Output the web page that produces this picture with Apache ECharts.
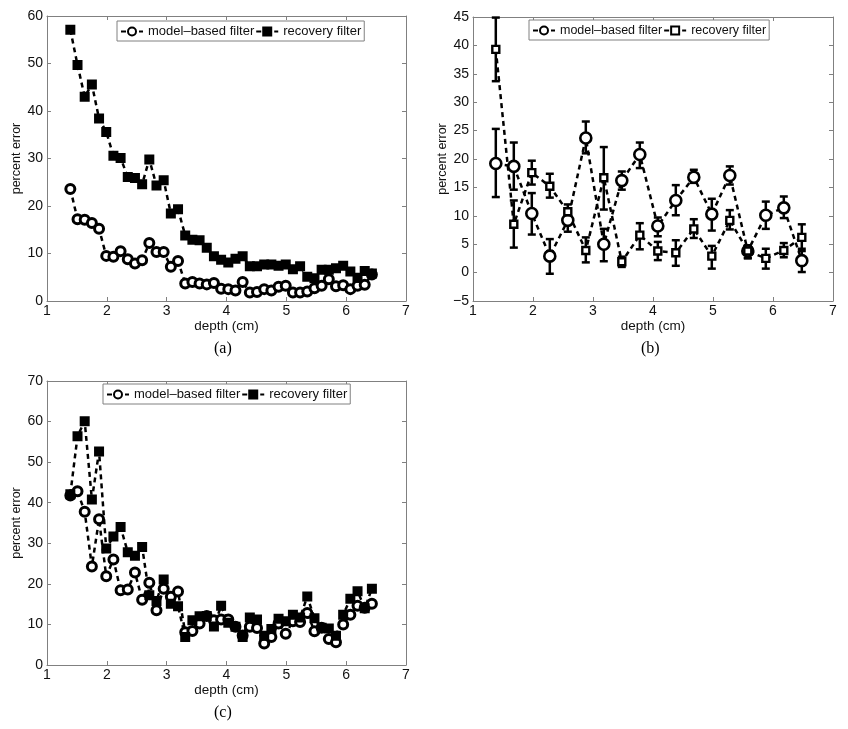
<!DOCTYPE html>
<html>
<head>
<meta charset="utf-8">
<script src="https://cdn.jsdelivr.net/npm/echarts@6/dist/echarts.min.js"></script>
<style>
html,body{margin:0;padding:0;background:#fff;}
#chart{width:848px;height:729px;}
</style>
</head>
<body>
<div id="chart"></div>
<script>
// ---------- data ----------
const depthFine = [1.39,1.51,1.63,1.75,1.87,1.99,2.11,2.23,2.35,2.47,2.59,2.71,2.83,2.95,3.07,3.19,3.31,3.43,3.55,3.67,3.79,3.91,4.03,4.15,4.27,4.39,4.51,4.63,4.75,4.87,4.99,5.11,5.23,5.35,5.47,5.59,5.71,5.83,5.95,6.07,6.19,6.31,6.43];
const depthCoarse = [1.38,1.68,1.98,2.28,2.58,2.88,3.18,3.48,3.78,4.08,4.38,4.68,4.98,5.28,5.58,5.88,6.18,6.48];

// panel (a)
const modelA = [23.6,17.2,17.1,16.4,15.2,9.5,9.3,10.5,8.8,7.9,8.6,12.2,10.3,10.3,7.2,8.4,3.7,4.0,3.7,3.5,3.8,2.6,2.5,2.2,4.0,1.8,1.9,2.5,2.2,3.0,3.2,1.8,1.8,2.0,2.7,3.2,4.6,3.1,3.3,2.5,3.2,3.4,5.6];
const recoveryA = [57.1,49.7,43.0,45.6,38.4,35.6,30.6,30.1,26.1,25.9,24.6,29.8,24.3,25.4,18.4,19.3,13.8,12.9,12.8,11.2,9.4,8.7,8.1,8.9,9.4,7.3,7.3,7.7,7.7,7.4,7.7,6.7,7.3,5.1,4.8,6.6,6.6,6.9,7.4,6.2,4.9,6.3,5.8];

// panel (b) means and error-bar ends
const modelB = [19.2,18.7,10.4,2.9,9.2,23.7,5.0,16.2,20.8,8.2,12.7,16.8,10.3,17.1,3.8,10.1,11.4,2.1];
const modelBLow = [13.3,14.6,6.7,-0.2,7.2,21.0,2.0,14.6,18.4,6.4,10.1,15.8,7.4,15.5,2.5,7.7,9.6,0.1];
const modelBHigh = [25.3,22.9,14.0,5.9,10.6,26.6,7.7,17.8,22.9,9.7,15.4,18.1,13.0,18.7,4.7,12.5,13.4,4.2];
const recoveryB = [39.3,8.5,17.6,15.2,10.7,3.9,16.7,1.9,6.6,3.8,3.5,7.7,2.9,9.2,3.8,2.5,3.9,6.2];
const recoveryBLow = [33.7,4.4,15.5,13.2,9.0,1.8,11.1,1.0,4.1,2.2,1.2,6.1,0.7,7.6,2.6,0.7,2.7,3.8];
const recoveryBHigh = [44.9,12.7,19.7,17.4,12.0,6.2,22.1,2.8,8.7,5.4,5.7,9.4,4.7,11.0,4.8,4.2,5.2,8.5];

// panel (c)
const modelC = [41.8,42.8,37.8,24.3,35.9,21.9,26.0,18.4,18.6,22.8,16.1,20.3,13.5,18.8,16.8,18.1,8.1,8.4,10.2,12.1,11.0,11.2,11.2,9.4,7.3,9.4,9.1,5.3,6.9,10.2,7.7,10.8,10.6,12.8,8.3,9.2,6.4,5.6,10.0,12.4,14.6,14.1,15.1];
const recoveryC = [42.1,56.4,60.1,40.8,52.6,28.7,31.7,34.0,27.8,26.9,29.1,17.2,15.8,21.1,15.1,14.5,6.9,11.0,12.0,12.1,9.5,14.6,10.4,9.4,6.9,11.7,11.2,7.2,8.9,11.4,10.8,12.4,11.7,16.9,11.5,9.2,9.0,7.2,12.4,16.3,18.2,14.0,18.8];

const seriesNames = ['model–based filter','recovery filter'];
const panelLabels = ['(a)','(b)','(c)'];
const xTitle = 'depth (cm)';
const yTitle = 'percent error';

// ---------- helpers ----------
const FONT = '"Liberation Sans", Arial, Helvetica, sans-serif';
const frameColor = '#808080';
const pair = (xs, ys) => xs.map((x, i) => [x, ys[i]]);
const triple = (xs, lo, hi) => xs.map((x, i) => [x, lo[i], hi[i]]);

const grids = [
  {left: 47, top: 16, width: 359, height: 285},
  {left: 473, top: 17, width: 360, height: 284},
  {left: 47, top: 381, width: 359, height: 284}
];
const yRanges = [[0, 60, 10], [-5, 45, 5], [0, 70, 10]];

const xAxes = [], yAxes = [];
grids.forEach((g, i) => {
  const common = {
    gridIndex: i, type: 'value', min: 1, max: 7, interval: 1,
    splitLine: {show: false},
    axisLine: {show: true, onZero: false, lineStyle: {color: frameColor, width: 1}},
    axisTick: {show: true, inside: true, length: 4, lineStyle: {color: frameColor}}
  };
  xAxes.push(Object.assign({}, common, {
    position: 'bottom',
    name: xTitle, nameLocation: 'middle', nameGap: 17,
    nameTextStyle: {fontFamily: FONT, fontSize: 13.5, color: '#111'},
    axisLabel: {fontFamily: FONT, fontSize: 14, color: '#111', margin: 3}
  }));
  xAxes.push(Object.assign({}, common, {position: 'top', axisLabel: {show: false}}));
  const [ymin, ymax, yint] = yRanges[i];
  const ycommon = {
    gridIndex: i, type: 'value', min: ymin, max: ymax, interval: yint,
    splitLine: {show: false},
    axisLine: {show: true, onZero: false, lineStyle: {color: frameColor, width: 1}},
    axisTick: {show: true, inside: true, length: 4, lineStyle: {color: frameColor}}
  };
  yAxes.push(Object.assign({}, ycommon, {
    position: 'left',
    name: yTitle, nameLocation: 'middle', nameGap: 20,
    nameTextStyle: {fontFamily: FONT, fontSize: 12.5, color: '#111'},
    axisLabel: {fontFamily: FONT, fontSize: 14, color: '#111', margin: 4,
      formatter: v => (v < 0 ? '\u2212' + Math.abs(v) : String(v))}
  }));
  yAxes.push(Object.assign({}, ycommon, {position: 'right', axisLabel: {show: false}}));
});

const dash = {type: [5, 4], width: 2.5, color: '#000'};

function panelIdx(p) { return {a: 0, b: 1, c: 2}[p]; }

function lineSeries(panel, nameIdx, xs, ys, symbol, size, bw, fill) {
  return {
    type: 'line',
    name: panel + ':' + seriesNames[nameIdx],
    xAxisIndex: panelIdx(panel) * 2, yAxisIndex: panelIdx(panel) * 2,
    data: pair(xs, ys),
    symbol: symbol, symbolSize: size, showAllSymbol: true,
    lineStyle: dash,
    itemStyle: {color: fill, borderColor: '#000', borderWidth: bw},
    emphasis: {disabled: true},
    animation: false, z: 3
  };
}

function errorSeries(xs, lo, hi) {
  return {
    type: 'custom',
    xAxisIndex: 2, yAxisIndex: 2,
    data: triple(xs, lo, hi),
    encode: {x: 0, y: [1, 2]},
    silent: true, animation: false, z: 2,
    renderItem: function (params, api) {
      const x = api.value(0);
      const top = api.coord([x, api.value(2)]);
      const bot = api.coord([x, api.value(1)]);
      const w = 4;
      const st = {stroke: '#000', lineWidth: 2.5};
      return {type: 'group', children: [
        {type: 'line', shape: {x1: top[0], y1: top[1], x2: bot[0], y2: bot[1]}, style: st},
        {type: 'line', shape: {x1: top[0] - w, y1: top[1], x2: top[0] + w, y2: top[1]}, style: st},
        {type: 'line', shape: {x1: bot[0] - w, y1: bot[1], x2: bot[0] + w, y2: bot[1]}, style: st}
      ]};
    }
  };
}

const series = [
  lineSeries('a', 0, depthFine, modelA, 'circle', 9, 3, '#fff'),
  lineSeries('a', 1, depthFine, recoveryA, 'rect', 8, 2, '#000'),
  errorSeries(depthCoarse, modelBLow, modelBHigh),
  errorSeries(depthCoarse, recoveryBLow, recoveryBHigh),
  lineSeries('b', 0, depthCoarse, modelB, 'circle', 11, 2.6, '#fff'),
  lineSeries('b', 1, depthCoarse, recoveryB, 'rect', 7, 2.4, '#fff'),
  lineSeries('c', 0, depthFine, modelC, 'circle', 9, 3, '#fff'),
  lineSeries('c', 1, depthFine, recoveryC, 'rect', 8, 2, '#000')
];

function legendFor(panel, left, top, fs) {
  return {
    left: left, top: top, orient: 'horizontal',
    data: seriesNames.map(n => panel + ':' + n),
    formatter: name => name.split(':')[1],
    itemWidth: 22, itemHeight: 10, itemGap: 1,
    padding: [4, 3, 3, 3],
    backgroundColor: '#fff',
    borderColor: frameColor, borderWidth: 1, borderRadius: 0,
    textStyle: {fontFamily: FONT, fontSize: fs, color: '#111'},
    selectedMode: false
  };
}

const option = {
  backgroundColor: '#fff',
  animation: false,
  grid: grids,
  xAxis: xAxes,
  yAxis: yAxes,
  legend: [
    legendFor('a', 117, 21, 13),
    legendFor('b', 529, 20, 12.5),
    legendFor('c', 103, 384, 13)
  ],
  series: series,
  graphic: [
    {type: 'text', left: 214, top: 341, style: {text: panelLabels[0], font: '16px "Liberation Serif", "Times New Roman", serif', fill: '#000'}},
    {type: 'text', left: 641, top: 341, style: {text: panelLabels[1], font: '16px "Liberation Serif", "Times New Roman", serif', fill: '#000'}},
    {type: 'text', left: 214, top: 705, style: {text: panelLabels[2], font: '16px "Liberation Serif", "Times New Roman", serif', fill: '#000'}}
  ]
};

const chart = echarts.init(document.getElementById('chart'), null, {renderer: 'canvas'});
chart.setOption(option);
</script>
</body>
</html>
